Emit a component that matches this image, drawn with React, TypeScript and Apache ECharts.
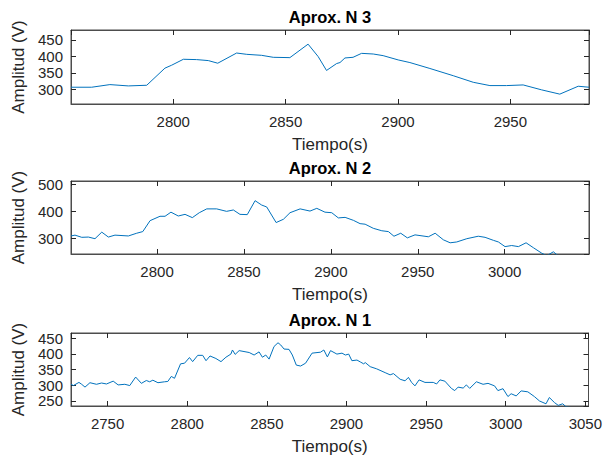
import React, { useEffect, useRef } from "react";
import * as echarts from "echarts";

// ---- Data ----
const titles = ["Aprox. N 3", "Aprox. N 2", "Aprox. N 1"];
const xAxisName = "Tiempo(s)";
const yAxisName = "Amplitud (V)";

const n3Time = [2754.5, 2763.7, 2771.8, 2780, 2788.2, 2796.3, 2799.3, 2804.5, 2810.4, 2815.6, 2819.8, 2828.2, 2832.7, 2839.3, 2844.5, 2851.9, 2860, 2864.5, 2868.2, 2872.7, 2874.2, 2876.4, 2880, 2883.8, 2889, 2893.4, 2900.1, 2905.3, 2914.2, 2924.6, 2933.5, 2940.9, 2948.3, 2955.7, 2963.9, 2972, 2980.2, 2985];
const n3Amp = [306, 306, 314, 310, 312, 364, 373, 391, 390, 387, 379, 410, 406, 403, 397, 396, 437, 399, 357, 378, 381, 395, 397, 409, 407, 402, 389, 381, 363, 341, 321, 311, 311, 313, 298, 285, 309, 306];

const n2Time = [2750.5, 2752.8, 2756.7, 2760.5, 2764.3, 2768.2, 2772, 2775.8, 2783.5, 2788.3, 2791.8, 2796, 2801.7, 2804.6, 2808, 2812.2, 2816.1, 2820.3, 2824.3, 2828.6, 2834.3, 2840, 2843.9, 2847.7, 2851.9, 2856.4, 2860.2, 2863.1, 2868.5, 2872.7, 2876.5, 2882.3, 2888, 2891.9, 2896.6, 2900.5, 2904.3, 2908.2, 2913, 2916.8, 2919.7, 2924.4, 2929.3, 2933.1, 2936.3, 2940.2, 2944, 2948.4, 2956.1, 2960, 2964.7, 2968.6, 2972.4, 2978.2, 2984.8, 2988.7, 2993.5, 2996.4, 3000.2, 3004, 3007.9, 3012.3, 3016.5, 3021.3, 3024.2, 3028, 3030.3, 3036, 3042, 3048.5];
const n2Amp = [310, 313, 305, 306, 300, 324, 306, 313, 310, 320, 326, 366, 382, 382, 397, 383, 389, 377, 395, 409, 409, 400, 405, 389, 388, 439, 423, 416, 359, 371, 395, 409, 401, 411, 397, 395, 376, 378, 367, 355, 353, 338, 329, 326, 309, 320, 303, 314, 307, 320, 296, 285, 288, 300, 309, 305, 294, 288, 271, 275, 271, 285, 267, 247, 238, 252, 240, 232, 226, 220];

const n1Time = [2727, 2728.5, 2732, 2733.7, 2735.8, 2738.9, 2743, 2746.2, 2749.3, 2753.5, 2756.6, 2760.8, 2763.9, 2767.6, 2771.2, 2774.3, 2776.4, 2778.4, 2781.6, 2785.8, 2787.8, 2790, 2792, 2795.8, 2798.3, 2801.4, 2803.4, 2806.6, 2809.7, 2811.8, 2814.3, 2818, 2821.2, 2824.3, 2827.4, 2828.4, 2830.1, 2832.6, 2838.9, 2842, 2845.1, 2847.2, 2849.3, 2851.4, 2854.5, 2857, 2858.7, 2860.8, 2863.9, 2866, 2868.5, 2871.2, 2874.3, 2878.4, 2883.7, 2885.8, 2888, 2890, 2894, 2897.2, 2899.3, 2901.4, 2903.4, 2906.6, 2908.7, 2910.8, 2911.8, 2914.9, 2919, 2924.3, 2927.4, 2929.5, 2933.7, 2936.8, 2938.9, 2940.9, 2943, 2945.6, 2949.3, 2954.5, 2956.6, 2958.7, 2961.8, 2965.9, 2968, 2970.1, 2973.3, 2975.3, 2977.4, 2981.6, 2985.8, 2988.9, 2993, 2995.1, 2998.3, 3001.4, 3003.4, 3006.6, 3009.7, 3013.9, 3018, 3021.2, 3025.3, 3027.4, 3030.6, 3033, 3035.8, 3037.8, 3045, 3052];
const n1Amp = [303, 299, 309, 303, 294, 308, 303, 307, 304, 313, 301, 303, 299, 326, 306, 315, 311, 316, 308, 311, 312, 328, 322, 368, 370, 388, 375, 395, 395, 378, 393, 385, 375, 389, 399, 412, 398, 410, 404, 396, 406, 389, 396, 383, 423, 435, 428, 415, 414, 396, 364, 361, 370, 402, 405, 412, 390, 410, 399, 402, 396, 399, 378, 380, 374, 368, 372, 359, 352, 340, 333, 337, 319, 314, 325, 309, 298, 317, 309, 309, 304, 317, 313, 290, 283, 294, 291, 301, 290, 311, 303, 306, 298, 283, 289, 264, 273, 266, 282, 279, 264, 250, 241, 261, 245, 236, 241, 232, 226, 220];

// axis ranges [xmin, xmax, ymin, ymax] and tick steps
const xRanges = [[2754.5, 2985], [2750.5, 3048.5], [2727, 3052]];
const yRanges = [[255, 480], [244, 511], [234, 466]];
const xSteps = [50, 50, 50];
const ySteps = [50, 100, 50];

const seriesTimes = [n3Time, n2Time, n1Time];
const seriesAmps = [n3Amp, n2Amp, n1Amp];

// ---- Layout ----
const gridTops = [30, 181, 333];
const gridHeights = [74, 73, 73];
const GRID_LEFT = 71;
const GRID_WIDTH = 518;
const FONT = "'Liberation Sans', Arial, Helvetica, sans-serif";
const TEXT_COLOR = "#262626";
const FRAME_COLOR = "#4d4d4d";
const LINE_COLOR = "#0072BD";

export default function App() {
  const ref = useRef<HTMLDivElement>(null);

  useEffect(() => {
    if (!ref.current) return;
    const chart = echarts.init(ref.current, null, { renderer: "svg" });

    const grids: any[] = [];
    const xAxes: any[] = [];
    const yAxes: any[] = [];
    const series: any[] = [];
    const title: any[] = [];

    for (let i = 0; i < 3; i++) {
      grids.push({
        left: GRID_LEFT,
        top: gridTops[i],
        width: GRID_WIDTH,
        height: gridHeights[i],
        show: true,
        borderColor: FRAME_COLOR,
        borderWidth: 1,
        backgroundColor: "#ffffff",
      });
      title.push({
        text: titles[i],
        left: GRID_LEFT + GRID_WIDTH / 2,
        top: gridTops[i] - 22,
        textAlign: "center",
        padding: 0,
        textStyle: {
          fontFamily: FONT,
          fontSize: 16.5,
          fontWeight: "bold",
          color: "#000000",
        },
      });
      const [xmin, xmax] = xRanges[i];
      const [ymin, ymax] = yRanges[i];
      const tickStyle = { show: true, inside: true, length: 5, lineStyle: { color: TEXT_COLOR, width: 1 } };
      const lineStyle = { show: true, onZero: false, lineStyle: { color: FRAME_COLOR, width: 1 } };
      const fmt = (v: number) => String(v);
      xAxes.push({
        type: "value",
        gridIndex: i,
        position: "bottom",
        min: xmin,
        max: xmax,
        splitNumber: 5,
        minInterval: xSteps[i],
        maxInterval: xSteps[i],
        axisLine: lineStyle,
        axisTick: tickStyle,
        splitLine: { show: false },
        axisLabel: {
          show: true,
          color: TEXT_COLOR,
          fontSize: 15,
          fontFamily: FONT,
          margin: 10,
          showMinLabel: false,
          showMaxLabel: false,
          formatter: fmt,
        },
        name: xAxisName,
        nameLocation: "middle",
        nameGap: 32,
        nameTextStyle: { fontFamily: FONT, fontSize: 17, color: TEXT_COLOR },
      });
      xAxes.push({
        type: "value",
        gridIndex: i,
        position: "top",
        min: xmin,
        max: xmax,
        splitNumber: 5,
        minInterval: xSteps[i],
        maxInterval: xSteps[i],
        axisLine: lineStyle,
        axisTick: tickStyle,
        splitLine: { show: false },
        axisLabel: { show: false },
      });
      yAxes.push({
        type: "value",
        gridIndex: i,
        position: "left",
        min: ymin,
        max: ymax,
        splitNumber: 4,
        minInterval: ySteps[i],
        maxInterval: ySteps[i],
        axisLine: lineStyle,
        axisTick: tickStyle,
        splitLine: { show: false },
        axisLabel: {
          show: true,
          color: TEXT_COLOR,
          fontSize: 15,
          fontFamily: FONT,
          margin: 8,
          showMinLabel: false,
          showMaxLabel: false,
          formatter: fmt,
        },
        name: yAxisName,
        nameLocation: "middle",
        nameGap: 41,
        nameTextStyle: { fontFamily: FONT, fontSize: 17, color: TEXT_COLOR },
      });
      yAxes.push({
        type: "value",
        gridIndex: i,
        position: "right",
        min: ymin,
        max: ymax,
        splitNumber: 4,
        minInterval: ySteps[i],
        maxInterval: ySteps[i],
        axisLine: lineStyle,
        axisTick: tickStyle,
        splitLine: { show: false },
        axisLabel: { show: false },
      });
      const t = seriesTimes[i];
      const a = seriesAmps[i];
      series.push({
        type: "line",
        name: titles[i],
        xAxisIndex: i * 2,
        yAxisIndex: i * 2,
        data: t.map((x, k) => [x, a[k]]),
        showSymbol: false,
        symbol: "none",
        clip: true,
        lineStyle: { color: LINE_COLOR, width: 1 },
        itemStyle: { color: LINE_COLOR },
      });
    }

    chart.setOption({
      animation: false,
      backgroundColor: "#ffffff",
      title,
      grid: grids,
      xAxis: xAxes,
      yAxis: yAxes,
      series,
    });

    return () => {
      chart.dispose();
    };
  }, []);

  return (
    <div
      ref={ref}
      style={{ width: 605, height: 459, position: "absolute", left: 0, top: 0 }}
    />
  );
}
